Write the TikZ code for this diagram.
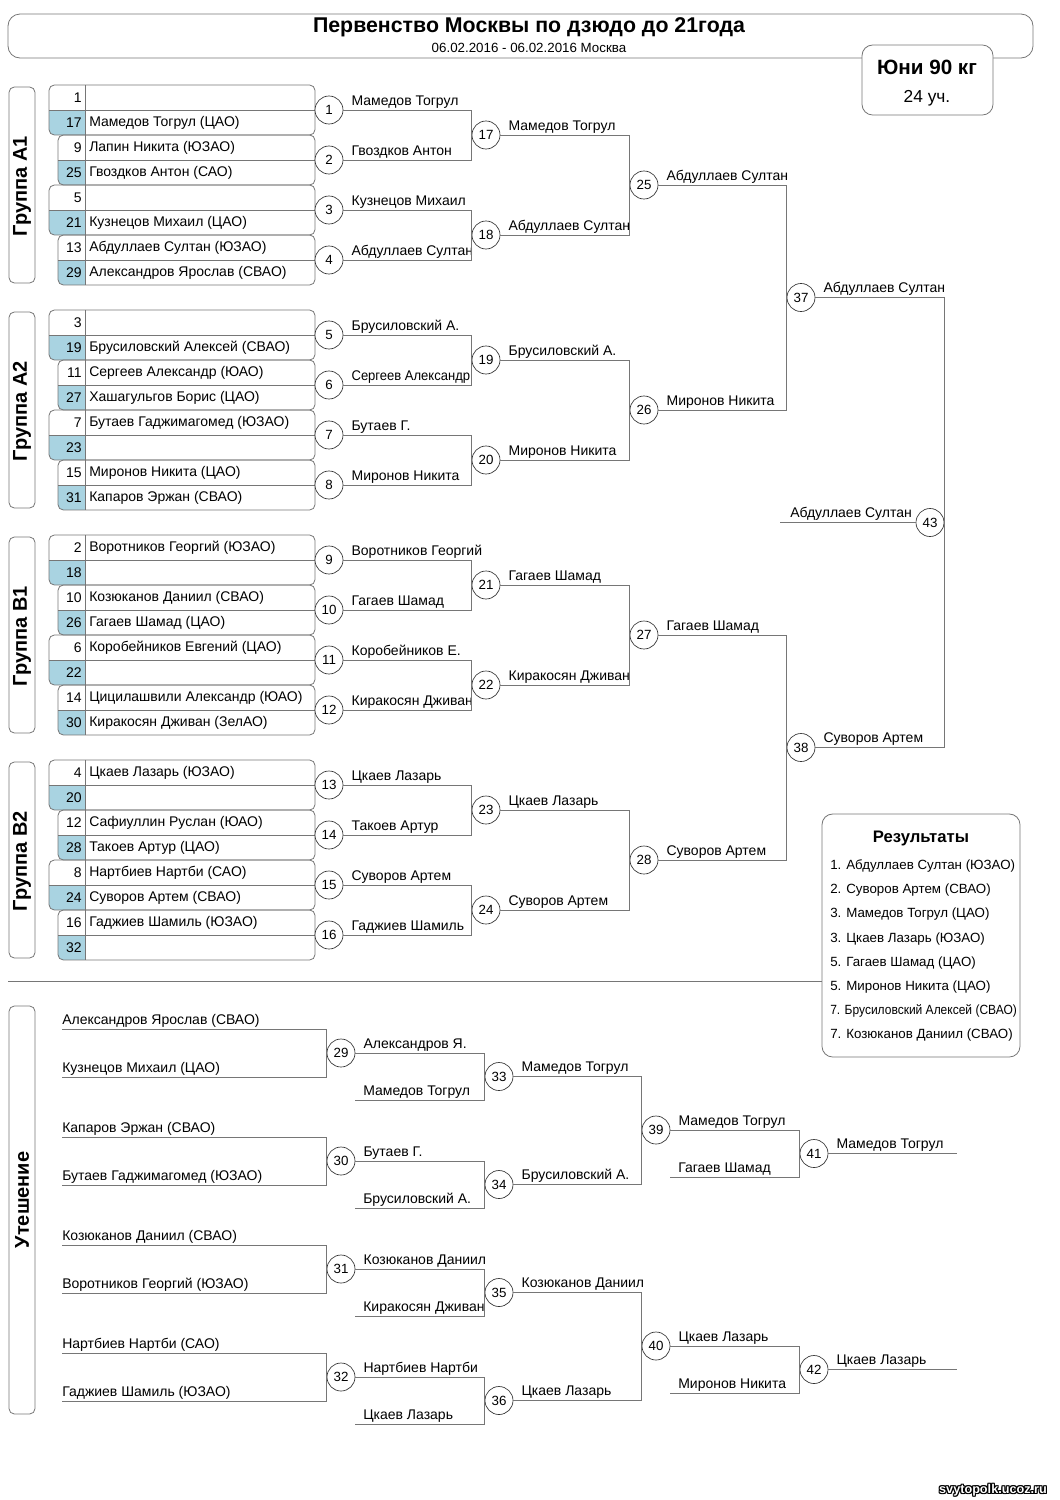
\documentclass[tikz,border=0pt]{standalone}
\usepackage{fontspec}
\setmainfont{Liberation Sans}
\usepackage{xcolor}
\usepackage{tikz}
\usetikzlibrary{positioning, calc}
\definecolor{seedblue}{HTML}{A9D3E1}
\definecolor{rulegray}{HTML}{767676}

\tikzset{
  bout/.style={circle, draw=black!80, fill=white, line width=0.5pt, minimum size=21pt, inner sep=0pt, font=\fontsize{10}{12}\selectfont},
  wire/.style={draw=rulegray, line width=0.6pt},
  who/.style={anchor=base west, inner sep=0pt, font=\fontsize{10.5}{12}\selectfont},
  frame/.style={draw=rulegray, line width=0.6pt, rounded corners=4pt},
  grouptag/.style={rotate=90, inner sep=0pt, font=\fontsize{15}{17}\selectfont\bfseries},
}

\begin{document}
\begin{tikzpicture}[x=0.75pt, y=-0.75pt]
  \useasboundingbox (0,0) rectangle (1060,1500);

  % header
  \draw[frame, rounded corners=9pt] (8,14) rectangle (1033,58);
  \node[font=\fontsize{16}{19}\selectfont\bfseries] (title) at (529,27) {Первенство Москвы по дзюдо до 21года};
  \node[font=\fontsize{10}{12}\selectfont] (dates) at (529,48) {06.02.2016 - 06.02.2016 Москва};
  \draw[frame, fill=white, rounded corners=8pt] (862,45) rectangle (993,115);
  \node[font=\fontsize{15.5}{18}\selectfont\bfseries] (weight) at (927,67) {Юни 90 кг};
  \node[font=\fontsize{13}{15}\selectfont] (count) at (927,98) {24 уч.};

  % groups and seed boxes
  \foreach \g/\glab in {0/Группа А1, 1/Группа А2, 2/Группа В1, 3/Группа В2}{
    \pgfmathsetmacro\gy{85+225*\g}
    \draw[frame] (9,\gy+2) rectangle (35,\gy+198);
    \node[grouptag] (grp\g) at (22,\gy+101) {\glab};
    \foreach \p in {0,...,3}{
      \pgfmathsetmacro\bt{\gy+50*\p}
      \pgfmathsetmacro\bl{mod(\p,2)==0 ? 49 : 58}
      \begin{scope}
        \clip[rounded corners=4pt] (\bl,\bt) rectangle (315,\bt+50);
        \fill[seedblue] (\bl,\bt+25) rectangle (85,\bt+50);
      \end{scope}
      \draw[frame] (\bl,\bt) rectangle (315,\bt+50);
      \draw[wire] (\bl,\bt+25) -- (315,\bt+25);
      \draw[wire] (85,\bt) -- (85,\bt+50);
    }
  }

  % seeded entries
  \foreach \r/\s/\n in {
    0/1/{}, 1/17/Мамедов Тогрул (ЦАО), 2/9/Лапин Никита (ЮЗАО), 3/25/Гвоздков Антон (САО),
    4/5/{}, 5/21/Кузнецов Михаил (ЦАО), 6/13/Абдуллаев Султан (ЮЗАО), 7/29/Александров Ярослав (СВАО),
    8/3/{}, 9/19/Брусиловский Алексей (СВАО), 10/11/Сергеев Александр (ЮАО), 11/27/Хашагульгов Борис (ЦАО),
    12/7/Бутаев Гаджимагомед (ЮЗАО), 13/23/{}, 14/15/Миронов Никита (ЦАО), 15/31/Капаров Эржан (СВАО),
    16/2/Воротников Георгий (ЮЗАО), 17/18/{}, 18/10/Козюканов Даниил (СВАО), 19/26/Гагаев Шамад (ЦАО),
    20/6/Коробейников Евгений (ЦАО), 21/22/{}, 22/14/Цицилашвили Александр (ЮАО), 23/30/Киракосян Дживан (ЗелАО),
    24/4/Цкаев Лазарь (ЮЗАО), 25/20/{}, 26/12/Сафиуллин Руслан (ЮАО), 27/28/Такоев Артур (ЦАО),
    28/8/Нартбиев Нартби (САО), 29/24/Суворов Артем (СВАО), 30/16/Гаджиев Шамиль (ЮЗАО), 31/32/{}}{
    \pgfmathsetmacro\ry{85+225*floor(\r/8)+25*mod(\r,8)+12.5}
    \node[anchor=east, inner sep=0pt, font=\fontsize{10.5}{12}\selectfont] (seed\s) at (82,\ry) {\s};
    \node[anchor=west, inner sep=0pt, font=\fontsize{10.5}{12}\selectfont] (name\s) at (89,\ry) {\n};
  }

  % round 1
  \foreach \m/\w in {1/Мамедов Тогрул, 2/Гвоздков Антон, 3/Кузнецов Михаил, 4/Абдуллаев Султан,
    5/Брусиловский А., 6/\scalebox{0.93}[1]{Сергеев Александр}, 7/Бутаев Г., 8/Миронов Никита,
    9/Воротников Георгий, 10/Гагаев Шамад, 11/Коробейников Е., 12/Киракосян Дживан,
    13/Цкаев Лазарь, 14/Такоев Артур, 15/Суворов Артем, 16/Гаджиев Шамиль}{
    \pgfmathsetmacro\my{85+225*floor((\m-1)/4)+50*mod(\m-1,4)+25}
    \node[bout] (m\m) at (329,\my) {\m};
    \node[who] (w\m) at ($(m\m.east)+(8,-5)$) {\w};
  }
  % round 2
  \foreach \m/\w in {17/Мамедов Тогрул, 18/Абдуллаев Султан, 19/Брусиловский А., 20/Миронов Никита,
    21/Гагаев Шамад, 22/Киракосян Дживан, 23/Цкаев Лазарь, 24/Суворов Артем}{
    \pgfmathsetmacro\my{85+225*floor((\m-17)/2)+100*mod(\m-17,2)+50}
    \node[bout] (m\m) at (486,\my) {\m};
    \node[who] (w\m) at ($(m\m.east)+(8,-5)$) {\w};
  }
  % round 3
  \foreach \m/\w in {25/Абдуллаев Султан, 26/Миронов Никита, 27/Гагаев Шамад, 28/Суворов Артем}{
    \pgfmathsetmacro\my{85+225*(\m-25)+100}
    \node[bout] (m\m) at (644,\my) {\m};
    \node[who] (w\m) at ($(m\m.east)+(8,-5)$) {\w};
  }
  % semifinals and final
  \node[bout] (m37) at (801,297.5) {37};
  \node[who] (w37) at ($(m37.east)+(8,-5)$) {Абдуллаев Султан};
  \node[bout] (m38) at (801,747.5) {38};
  \node[who] (w38) at ($(m38.east)+(8,-5)$) {Суворов Артем};
  \node[bout] (m43) at (930,522.5) {43};
  \coordinate (champ) at (780,522.5);
  \node[who] (w43) at ($(champ)+(10,-5)$) {Абдуллаев Султан};

  \foreach \c/\p in {1/17,2/17,3/18,4/18,5/19,6/19,7/20,8/20,9/21,10/21,11/22,12/22,13/23,14/23,15/24,16/24,
    17/25,18/25,19/26,20/26,21/27,22/27,23/28,24/28,25/37,26/37,27/38,28/38}{
    \draw[wire] (m\c.east) -| (m\p.west);
  }
  \draw[wire] (m37.east) -| (m43.east);
  \draw[wire] (m38.east) -| (m43.east);
  \draw[wire] (champ) -- (m43.west);

  % results
  \draw[wire] (8,981) -- (822,981);
  \draw[frame, fill=white, rounded corners=8pt] (822,814) rectangle (1020,1057);
  \node[font=\fontsize{12.5}{15}\selectfont\bfseries] (restitle) at (921,838) {Результаты};
  \foreach \i/\t in {0/1. Абдуллаев Султан (ЮЗАО), 1/2. Суворов Артем (СВАО), 2/3. Мамедов Тогрул (ЦАО),
    3/3. Цкаев Лазарь (ЮЗАО), 4/5. Гагаев Шамад (ЦАО), 5/5. Миронов Никита (ЦАО)}{
    \node[anchor=west, inner sep=0pt, font=\fontsize{10}{12}\selectfont] (res\i) at (830,866+24.2*\i) {\t};
  }
  \node[anchor=west, inner sep=0pt, font=\fontsize{10}{12}\selectfont] (res6) at (830,1011)
    {\scalebox{0.9}[1]{7. Брусиловский Алексей (СВАО)}};
  \node[anchor=west, inner sep=0pt, font=\fontsize{10}{12}\selectfont] (res7) at (830,1035) {7. Козюканов Даниил (СВАО)};

  % consolation
  \draw[frame] (9,1006) rectangle (35,1414);
  \node[grouptag] (grpc) at (22,1200) {Утешение};
  \foreach \k/\cm/\nm/\ta/\tb/\wa/\lo/\wb in {
    0/29/33/Александров Ярослав (СВАО)/Кузнецов Михаил (ЦАО)/Александров Я./Мамедов Тогрул/Мамедов Тогрул,
    1/30/34/Капаров Эржан (СВАО)/Бутаев Гаджимагомед (ЮЗАО)/Бутаев Г./Брусиловский А./Брусиловский А.,
    2/31/35/Козюканов Даниил (СВАО)/Воротников Георгий (ЮЗАО)/Козюканов Даниил/Киракосян Дживан/Козюканов Даниил,
    3/32/36/Нартбиев Нартби (САО)/Гаджиев Шамиль (ЮЗАО)/Нартбиев Нартби/Цкаев Лазарь/Цкаев Лазарь}{
    \pgfmathsetmacro\yb{1029+108*\k}
    \coordinate (ea\k) at (62,\yb);
    \coordinate (eb\k) at (62,\yb+48);
    \node[who] (ta\k) at ($(ea\k)+(0,-5)$) {\ta};
    \node[who] (tb\k) at ($(eb\k)+(0,-5)$) {\tb};
    \node[bout] (m\cm) at (341,\yb+24) {\cm};
    \draw[wire] (ea\k) -| (m\cm.west);
    \draw[wire] (eb\k) -| (m\cm.west);
    \node[who] (w\cm) at ($(m\cm.east)+(8,-5)$) {\wa};
    \node[bout] (m\nm) at (499,\yb+47.5) {\nm};
    \coordinate (lo\k) at (355,\yb+71);
    \node[who] (tl\k) at ($(lo\k)+(8,-5)$) {\lo};
    \draw[wire] (m\cm.east) -| (m\nm.west);
    \draw[wire] (lo\k) -| (m\nm.west);
    \node[who] (w\nm) at ($(m\nm.east)+(8,-5)$) {\wb};
  }
  \foreach \m/\a/\b/\y/\lo/\wa/\wb in {39/33/34/1130/Гагаев Шамад/Мамедов Тогрул/Мамедов Тогрул,
    40/35/36/1346/Миронов Никита/Цкаев Лазарь/Цкаев Лазарь}{
    \pgfmathtruncatemacro\f{\m+2}
    \node[bout] (m\m) at (656,\y) {\m};
    \draw[wire] (m\a.east) -| (m\m.west);
    \draw[wire] (m\b.east) -| (m\m.west);
    \node[who] (w\m) at ($(m\m.east)+(8,-5)$) {\wa};
    \node[bout] (m\f) at (814,\y+23.5) {\f};
    \coordinate (lo\m) at (670,\y+47);
    \node[who] (tl\m) at ($(lo\m)+(8,-5)$) {\lo};
    \draw[wire] (m\m.east) -| (m\f.west);
    \draw[wire] (lo\m) -| (m\f.west);
    \coordinate (end\f) at (957,\y+23.5);
    \draw[wire] (m\f.east) -- (end\f);
    \node[who] (w\f) at ($(m\f.east)+(8,-5)$) {\wb};
  }

  % site mark
  \foreach \dx/\dy in {-1/0,1/0,0/-1,0/1,-1/-1,1/1,-1/1,1/-1}{
    \node[font=\fontsize{9.5}{11}\selectfont\bfseries, text=black] at (993+\dx,1490+\dy) {svytopolk.ucoz.ru};
  }
  \node[font=\fontsize{9.5}{11}\selectfont\bfseries, text=white] (site) at (993,1490) {svytopolk.ucoz.ru};
\end{tikzpicture}
\end{document}
